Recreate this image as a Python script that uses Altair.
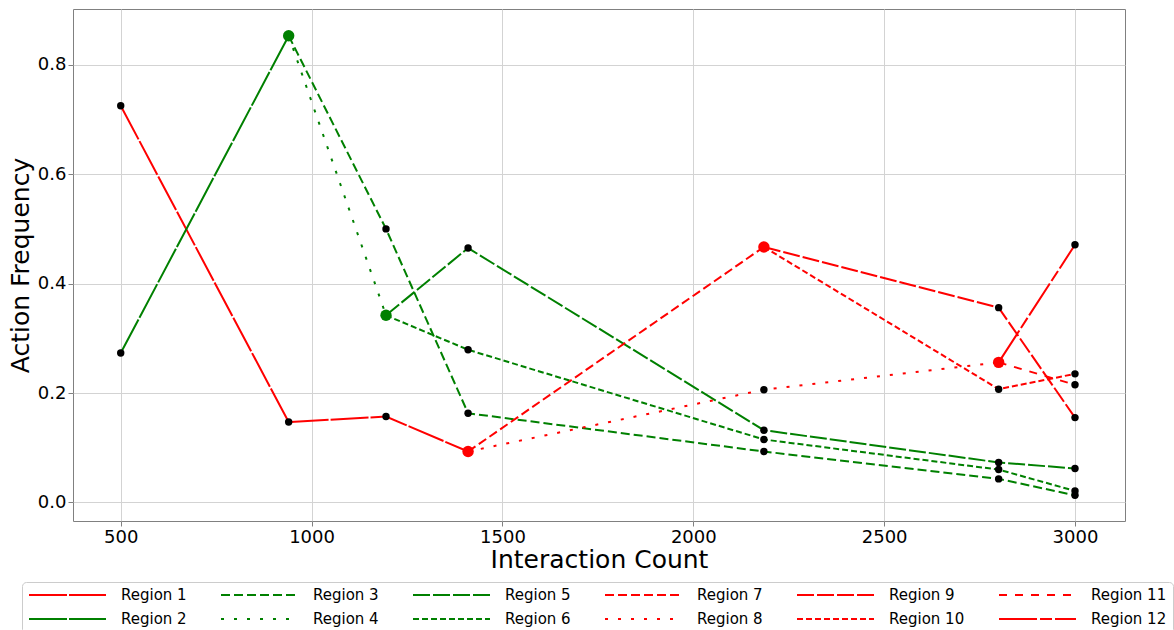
import altair as alt
import pandas as pd

# Axis ticks
X_TICKS = [500, 1000, 1500, 2000, 2500, 3000]
Y_TICKS = [0.0, 0.2, 0.4, 0.6, 0.8]

# Each region's path: interaction counts and action frequencies
region_1_x = [500, 940, 1195, 1410]
region_1_y = [0.725, 0.147, 0.157, 0.093]
region_2_x = [500, 940]
region_2_y = [0.273, 0.853]
region_3_x = [940, 1195, 1410, 2185, 2800, 3000]
region_3_y = [0.853, 0.500, 0.163, 0.093, 0.043, 0.013]
region_4_x = [940, 1195]
region_4_y = [0.853, 0.342]
region_5_x = [1195, 1410, 2185, 2800, 3000]
region_5_y = [0.342, 0.465, 0.132, 0.073, 0.062]
region_6_x = [1195, 1410, 2185, 2800, 3000]
region_6_y = [0.342, 0.279, 0.115, 0.060, 0.021]
region_7_x = [1410, 2185]
region_7_y = [0.093, 0.467]
region_8_x = [1410, 2185, 2800]
region_8_y = [0.093, 0.206, 0.256]
region_9_x = [2185, 2800, 3000]
region_9_y = [0.467, 0.356, 0.155]
region_10_x = [2185, 2800, 3000]
region_10_y = [0.467, 0.207, 0.235]
region_11_x = [2800, 3000]
region_11_y = [0.256, 0.215]
region_12_x = [2800, 3000]
region_12_y = [0.256, 0.471]

REGION_X = [region_1_x, region_2_x, region_3_x, region_4_x, region_5_x, region_6_x,
            region_7_x, region_8_x, region_9_x, region_10_x, region_11_x, region_12_x]
REGION_Y = [region_1_y, region_2_y, region_3_y, region_4_y, region_5_y, region_6_y,
            region_7_y, region_8_y, region_9_y, region_10_y, region_11_y, region_12_y]

REGION_NAMES = [f"Region {i}" for i in range(1, 13)]
REGION_COLORS = ["#ff0000", "#008000", "#008000", "#008000", "#008000", "#008000",
                 "#ff0000", "#ff0000", "#ff0000", "#ff0000", "#ff0000", "#ff0000"]
REGION_DASHES = [[38, 2], [38, 2], [9, 4], [3, 10], [17, 3], [6, 3],
                 [9, 4], [3, 10], [17, 3], [6, 3], [8, 8], [38, 3, 12, 3]]

# Branching nodes, highlighted with larger coloured dots
BRANCH_X = [940, 1195, 1410, 2185, 2800]
BRANCH_Y = [0.853, 0.342, 0.093, 0.467, 0.256]
BRANCH_COLOR = ["#008000", "#008000", "#ff0000", "#ff0000", "#ff0000"]

FONT = "DejaVu Sans"

rows = []
for name, xs, ys in zip(REGION_NAMES, REGION_X, REGION_Y):
    for step, (xv, yv) in enumerate(zip(xs, ys)):
        rows.append({"region": name, "x": xv, "y": yv, "step": step})
paths = pd.DataFrame(rows)
branches = pd.DataFrame({"x": BRANCH_X, "y": BRANCH_Y, "color": BRANCH_COLOR})

x_scale = alt.Scale(domain=[375, 3131], nice=False, zero=False)
y_scale = alt.Scale(domain=[-0.034, 0.902], nice=False, zero=False)

x_enc = alt.X("x:Q", scale=x_scale,
              axis=alt.Axis(values=X_TICKS, format="d", title="Interaction Count",
                            titlePadding=1))
y_enc = alt.Y("y:Q", scale=y_scale,
              axis=alt.Axis(values=Y_TICKS, format=".1f", title="Action Frequency",
                            titlePadding=4))

legend = alt.Legend(
    title=None, orient="none", legendX=-51, legendY=573, columns=6,
    symbolType="stroke", symbolSize=5929, symbolStrokeWidth=2,
    labelFontSize=15, labelFont=FONT, labelColor="black", labelOffset=14,
    clipHeight=14, rowPadding=9, columnPadding=33, padding=6,
    strokeColor="#cccccc", fillColor="white", cornerRadius=4,
)

lines = alt.Chart(paths).mark_line(strokeWidth=2).encode(
    x=x_enc,
    y=y_enc,
    color=alt.Color("region:N", scale=alt.Scale(domain=REGION_NAMES, range=REGION_COLORS),
                    legend=legend),
    strokeDash=alt.StrokeDash("region:N",
                              scale=alt.Scale(domain=REGION_NAMES, range=REGION_DASHES),
                              legend=legend),
    order="step:Q",
)

nodes = alt.Chart(paths).mark_circle(size=55, color="black", opacity=1).encode(
    x=alt.X("x:Q", scale=x_scale),
    y=alt.Y("y:Q", scale=y_scale),
)

hubs = alt.Chart(branches).mark_circle(size=130, opacity=1).encode(
    x=alt.X("x:Q", scale=x_scale),
    y=alt.Y("y:Q", scale=y_scale),
    color=alt.Color("color:N", scale=None),
)

chart = alt.layer(lines, nodes, hubs).properties(
    width=1052, height=512,
    autosize=alt.AutoSizeParams(type="none"),
    padding={"left": 73, "top": 9, "right": 49, "bottom": 109},
).configure_view(
    stroke="#808080", strokeWidth=1,
).configure_axis(
    labelFont=FONT, titleFont=FONT, labelFontSize=18, titleFontSize=25,
    titleFontWeight="normal", labelColor="black", titleColor="black",
    tickSize=5, tickColor="#808080", labelPadding=2, domain=False,
    grid=True, gridColor="#d3d3d3", gridWidth=1,
)

chart.save("out.html", embed_options={"renderer": "svg", "actions": False})
